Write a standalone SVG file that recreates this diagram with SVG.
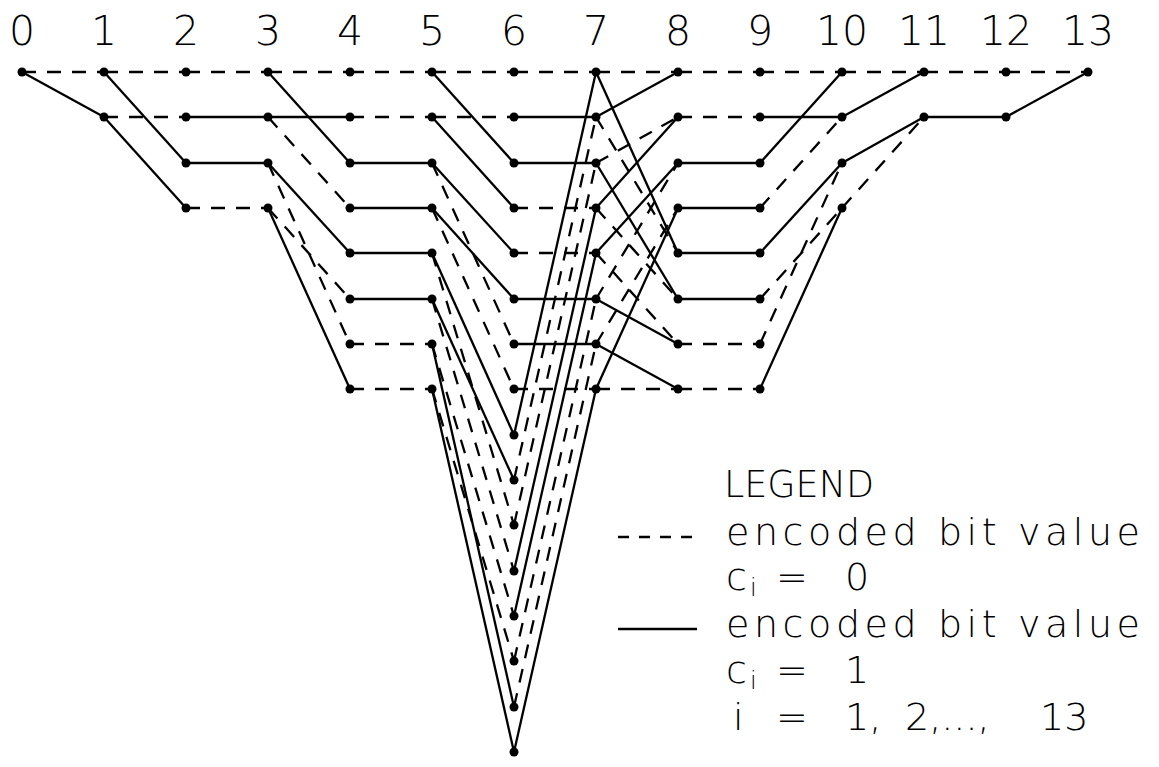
<svg xmlns="http://www.w3.org/2000/svg" width="1159" height="767" viewBox="0 0 1159 767">
<style>
.s{stroke:#000;stroke-width:2.3;fill:none}
.d{stroke:#000;stroke-width:2.3;fill:none;stroke-dasharray:14 11}
.n{fill:#000}
.t{font-family:"DejaVu Sans","Liberation Sans",sans-serif;font-weight:200;fill:#000}
.lbl{font-size:41px;text-anchor:middle}
.lg{font-size:38px}
.sub{font-size:24px;font-weight:300;fill:#000}
</style>
<rect width="1159" height="767" fill="#fff"/>
<g id="column-labels" class="t lbl">
<text x="22" y="45">0</text><text x="104" y="45">1</text><text x="186" y="45">2</text><text x="268" y="45">3</text><text x="350" y="45">4</text><text x="432" y="45">5</text><text x="514" y="45">6</text><text x="596" y="45">7</text><text x="678" y="45">8</text><text x="760" y="45">9</text><text x="842" y="45">10</text><text x="924" y="45">11</text><text x="1006" y="45">12</text><text x="1088" y="45">13</text>
</g>
<g id="connectors">
<line class="d" x1="22" y1="72" x2="104" y2="72"/><line class="s" x1="22" y1="72" x2="104" y2="117"/>
<line class="d" x1="104" y1="72" x2="186" y2="72"/><line class="s" x1="104" y1="72" x2="186" y2="163"/><line class="d" x1="104" y1="117" x2="186" y2="117"/><line class="s" x1="104" y1="117" x2="186" y2="208"/>
<line class="d" x1="186" y1="72" x2="268" y2="72"/><line class="s" x1="186" y1="117" x2="268" y2="117"/><line class="s" x1="186" y1="163" x2="268" y2="163"/><line class="d" x1="186" y1="208" x2="268" y2="208"/>
<line class="d" x1="268" y1="72" x2="350" y2="72"/><line class="s" x1="268" y1="72" x2="350" y2="163"/><line class="s" x1="268" y1="117" x2="350" y2="117"/><line class="d" x1="268" y1="117" x2="350" y2="208"/><line class="s" x1="268" y1="163" x2="350" y2="253"/><line class="d" x1="268" y1="163" x2="350" y2="344"/><line class="s" x1="268" y1="208" x2="350" y2="389"/><line class="d" x1="268" y1="208" x2="350" y2="299"/>
<line class="d" x1="350" y1="72" x2="432" y2="72"/><line class="d" x1="350" y1="117" x2="432" y2="117"/><line class="s" x1="350" y1="163" x2="432" y2="163"/><line class="s" x1="350" y1="208" x2="432" y2="208"/><line class="s" x1="350" y1="253" x2="432" y2="253"/><line class="s" x1="350" y1="299" x2="432" y2="299"/><line class="d" x1="350" y1="344" x2="432" y2="344"/><line class="d" x1="350" y1="389" x2="432" y2="389"/>
<line class="d" x1="432" y1="72" x2="514" y2="72"/><line class="s" x1="432" y1="72" x2="514" y2="163"/><line class="d" x1="432" y1="117" x2="514" y2="117"/><line class="s" x1="432" y1="117" x2="514" y2="208"/><line class="s" x1="432" y1="163" x2="514" y2="253"/><line class="d" x1="432" y1="163" x2="514" y2="344"/><line class="s" x1="432" y1="208" x2="514" y2="299"/><line class="d" x1="432" y1="208" x2="514" y2="389"/><line class="s" x1="432" y1="253" x2="514" y2="435"/><line class="d" x1="432" y1="253" x2="514" y2="525"/><line class="s" x1="432" y1="299" x2="514" y2="480"/><line class="d" x1="432" y1="299" x2="514" y2="571"/><line class="d" x1="432" y1="344" x2="514" y2="616"/><line class="s" x1="432" y1="344" x2="514" y2="707"/><line class="d" x1="432" y1="389" x2="514" y2="661"/><line class="s" x1="432" y1="389" x2="514" y2="752"/>
<line class="d" x1="514" y1="72" x2="596" y2="72"/><line class="s" x1="514" y1="117" x2="596" y2="117"/><line class="s" x1="514" y1="163" x2="596" y2="163"/><line class="d" x1="514" y1="208" x2="596" y2="208"/><line class="d" x1="514" y1="253" x2="596" y2="253"/><line class="s" x1="514" y1="299" x2="596" y2="299"/><line class="s" x1="514" y1="344" x2="596" y2="344"/><line class="d" x1="514" y1="389" x2="596" y2="389"/>
<line class="s" x1="514" y1="435" x2="596" y2="72"/><line class="d" x1="514" y1="480" x2="596" y2="117"/><line class="d" x1="514" y1="525" x2="596" y2="163"/><line class="s" x1="514" y1="571" x2="596" y2="208"/><line class="s" x1="514" y1="616" x2="596" y2="253"/><line class="d" x1="514" y1="661" x2="596" y2="299"/><line class="d" x1="514" y1="707" x2="596" y2="344"/><line class="s" x1="514" y1="752" x2="596" y2="389"/>
<line class="d" x1="596" y1="72" x2="678" y2="72"/><line class="s" x1="596" y1="72" x2="678" y2="253"/><line class="s" x1="596" y1="117" x2="678" y2="72"/><line class="d" x1="596" y1="117" x2="678" y2="253"/><line class="d" x1="596" y1="163" x2="678" y2="117"/><line class="s" x1="596" y1="163" x2="678" y2="299"/><line class="s" x1="596" y1="208" x2="678" y2="117"/><line class="d" x1="596" y1="208" x2="678" y2="299"/><line class="s" x1="596" y1="253" x2="678" y2="163"/><line class="d" x1="596" y1="253" x2="678" y2="344"/><line class="d" x1="596" y1="299" x2="678" y2="163"/><line class="s" x1="596" y1="299" x2="678" y2="344"/><line class="d" x1="596" y1="344" x2="678" y2="208"/><line class="s" x1="596" y1="344" x2="678" y2="389"/><line class="s" x1="596" y1="389" x2="678" y2="208"/><line class="d" x1="596" y1="389" x2="678" y2="389"/>
<line class="d" x1="678" y1="72" x2="760" y2="72"/><line class="d" x1="678" y1="117" x2="760" y2="117"/><line class="s" x1="678" y1="163" x2="760" y2="163"/><line class="s" x1="678" y1="208" x2="760" y2="208"/><line class="s" x1="678" y1="253" x2="760" y2="253"/><line class="s" x1="678" y1="299" x2="760" y2="299"/><line class="d" x1="678" y1="344" x2="760" y2="344"/><line class="d" x1="678" y1="389" x2="760" y2="389"/>
<line class="d" x1="760" y1="72" x2="842" y2="72"/><line class="s" x1="760" y1="163" x2="842" y2="72"/><line class="s" x1="760" y1="117" x2="842" y2="117"/><line class="d" x1="760" y1="208" x2="842" y2="117"/><line class="s" x1="760" y1="253" x2="842" y2="163"/><line class="d" x1="760" y1="344" x2="842" y2="163"/><line class="d" x1="760" y1="299" x2="842" y2="208"/><line class="s" x1="760" y1="389" x2="842" y2="208"/>
<line class="d" x1="842" y1="72" x2="924" y2="72"/><line class="s" x1="842" y1="117" x2="924" y2="72"/><line class="s" x1="842" y1="163" x2="924" y2="117"/><line class="d" x1="842" y1="208" x2="924" y2="117"/>
<line class="d" x1="924" y1="72" x2="1006" y2="72"/><line class="s" x1="924" y1="117" x2="1006" y2="117"/>
<line class="d" x1="1006" y1="72" x2="1088" y2="72"/><line class="s" x1="1006" y1="117" x2="1088" y2="72"/>
</g>
<g id="nodes" class="n">
<g id="n0-0"><circle cx="22" cy="72" r="4.5"/></g>
<g id="n1-0"><circle cx="104" cy="72" r="4.5"/></g><g id="n1-1"><circle cx="104" cy="117" r="4.5"/></g>
<g id="n2-0"><circle cx="186" cy="72" r="4.5"/></g><g id="n2-1"><circle cx="186" cy="117" r="4.5"/></g><g id="n2-2"><circle cx="186" cy="163" r="4.5"/></g><g id="n2-3"><circle cx="186" cy="208" r="4.5"/></g>
<g id="n3-0"><circle cx="268" cy="72" r="4.5"/></g><g id="n3-1"><circle cx="268" cy="117" r="4.5"/></g><g id="n3-2"><circle cx="268" cy="163" r="4.5"/></g><g id="n3-3"><circle cx="268" cy="208" r="4.5"/></g>
<g id="n4-0"><circle cx="350" cy="72" r="4.5"/></g><g id="n4-1"><circle cx="350" cy="117" r="4.5"/></g><g id="n4-2"><circle cx="350" cy="163" r="4.5"/></g><g id="n4-3"><circle cx="350" cy="208" r="4.5"/></g><g id="n4-4"><circle cx="350" cy="253" r="4.5"/></g><g id="n4-5"><circle cx="350" cy="299" r="4.5"/></g><g id="n4-6"><circle cx="350" cy="344" r="4.5"/></g><g id="n4-7"><circle cx="350" cy="389" r="4.5"/></g>
<g id="n5-0"><circle cx="432" cy="72" r="4.5"/></g><g id="n5-1"><circle cx="432" cy="117" r="4.5"/></g><g id="n5-2"><circle cx="432" cy="163" r="4.5"/></g><g id="n5-3"><circle cx="432" cy="208" r="4.5"/></g><g id="n5-4"><circle cx="432" cy="253" r="4.5"/></g><g id="n5-5"><circle cx="432" cy="299" r="4.5"/></g><g id="n5-6"><circle cx="432" cy="344" r="4.5"/></g><g id="n5-7"><circle cx="432" cy="389" r="4.5"/></g>
<g id="n6-0"><circle cx="514" cy="72" r="4.5"/></g><g id="n6-1"><circle cx="514" cy="117" r="4.5"/></g><g id="n6-2"><circle cx="514" cy="163" r="4.5"/></g><g id="n6-3"><circle cx="514" cy="208" r="4.5"/></g><g id="n6-4"><circle cx="514" cy="253" r="4.5"/></g><g id="n6-5"><circle cx="514" cy="299" r="4.5"/></g><g id="n6-6"><circle cx="514" cy="344" r="4.5"/></g><g id="n6-7"><circle cx="514" cy="389" r="4.5"/></g><g id="n6-8"><circle cx="514" cy="435" r="4.5"/></g><g id="n6-9"><circle cx="514" cy="480" r="4.5"/></g><g id="n6-10"><circle cx="514" cy="525" r="4.5"/></g><g id="n6-11"><circle cx="514" cy="571" r="4.5"/></g><g id="n6-12"><circle cx="514" cy="616" r="4.5"/></g><g id="n6-13"><circle cx="514" cy="661" r="4.5"/></g><g id="n6-14"><circle cx="514" cy="707" r="4.5"/></g><g id="n6-15"><circle cx="514" cy="752" r="4.5"/></g>
<g id="n7-0"><circle cx="596" cy="72" r="4.5"/></g><g id="n7-1"><circle cx="596" cy="117" r="4.5"/></g><g id="n7-2"><circle cx="596" cy="163" r="4.5"/></g><g id="n7-3"><circle cx="596" cy="208" r="4.5"/></g><g id="n7-4"><circle cx="596" cy="253" r="4.5"/></g><g id="n7-5"><circle cx="596" cy="299" r="4.5"/></g><g id="n7-6"><circle cx="596" cy="344" r="4.5"/></g><g id="n7-7"><circle cx="596" cy="389" r="4.5"/></g>
<g id="n8-0"><circle cx="678" cy="72" r="4.5"/></g><g id="n8-1"><circle cx="678" cy="117" r="4.5"/></g><g id="n8-2"><circle cx="678" cy="163" r="4.5"/></g><g id="n8-3"><circle cx="678" cy="208" r="4.5"/></g><g id="n8-4"><circle cx="678" cy="253" r="4.5"/></g><g id="n8-5"><circle cx="678" cy="299" r="4.5"/></g><g id="n8-6"><circle cx="678" cy="344" r="4.5"/></g><g id="n8-7"><circle cx="678" cy="389" r="4.5"/></g>
<g id="n9-0"><circle cx="760" cy="72" r="4.5"/></g><g id="n9-1"><circle cx="760" cy="117" r="4.5"/></g><g id="n9-2"><circle cx="760" cy="163" r="4.5"/></g><g id="n9-3"><circle cx="760" cy="208" r="4.5"/></g><g id="n9-4"><circle cx="760" cy="253" r="4.5"/></g><g id="n9-5"><circle cx="760" cy="299" r="4.5"/></g><g id="n9-6"><circle cx="760" cy="344" r="4.5"/></g><g id="n9-7"><circle cx="760" cy="389" r="4.5"/></g>
<g id="n10-0"><circle cx="842" cy="72" r="4.5"/></g><g id="n10-1"><circle cx="842" cy="117" r="4.5"/></g><g id="n10-2"><circle cx="842" cy="163" r="4.5"/></g><g id="n10-3"><circle cx="842" cy="208" r="4.5"/></g>
<g id="n11-0"><circle cx="924" cy="72" r="4.5"/></g><g id="n11-1"><circle cx="924" cy="117" r="4.5"/></g>
<g id="n12-0"><circle cx="1006" cy="72" r="4.5"/></g><g id="n12-1"><circle cx="1006" cy="117" r="4.5"/></g>
<g id="n13-0"><circle cx="1088" cy="72" r="4.5"/></g>
</g>
<g id="legend">
<text class="t lg" x="724" y="497" textLength="150" lengthAdjust="spacingAndGlyphs">LEGEND</text>
<line class="d" x1="618" y1="537" x2="696" y2="537" style="stroke-dasharray:11 10"/>
<text class="t lg" x="726" y="545" textLength="414" lengthAdjust="spacing">encoded bit value</text>
<text class="t lg" x="726" y="590">c<tspan class="sub" x="750" y="596">i</tspan><tspan x="776" y="590">=</tspan><tspan x="845" y="590">0</tspan></text>
<line class="s" x1="618" y1="629" x2="697" y2="629"/>
<text class="t lg" x="726" y="637" textLength="414" lengthAdjust="spacing">encoded bit value</text>
<text class="t lg" x="726" y="683">c<tspan class="sub" x="750" y="689">i</tspan><tspan x="776" y="683">=</tspan><tspan x="845" y="683">1</tspan></text>
<text class="t lg" x="733" y="730">i<tspan x="776">=</tspan><tspan x="845">1,</tspan><tspan x="905">2,...,</tspan><tspan x="1040">13</tspan></text>
</g>
</svg>
